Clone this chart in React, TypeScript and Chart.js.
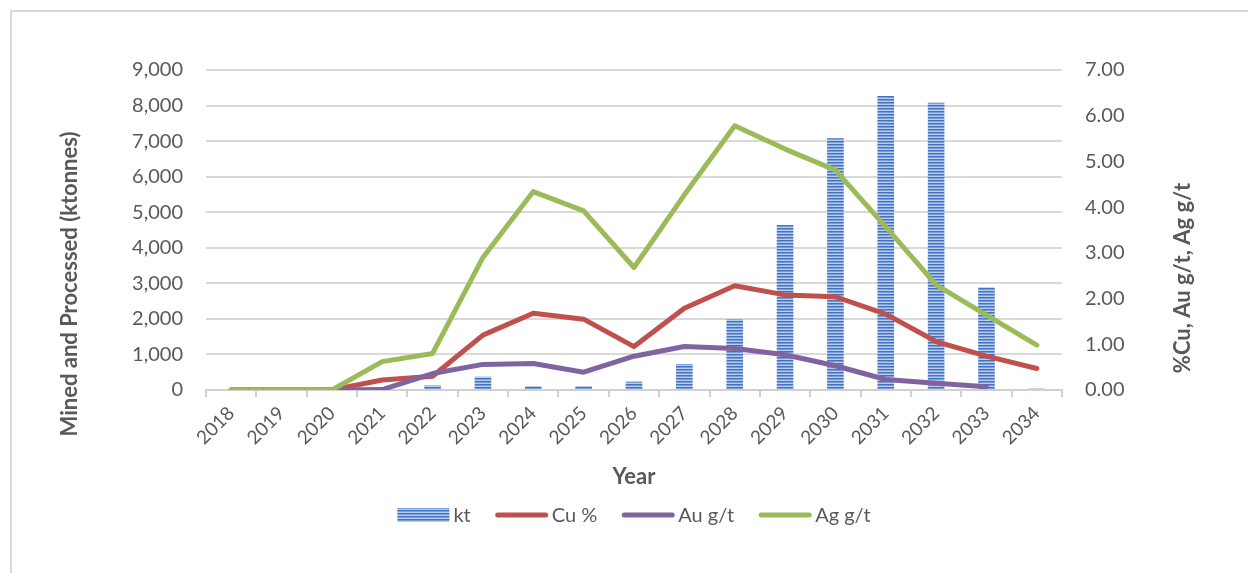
import React, { useEffect, useRef } from "react";
import { Chart, registerables } from "chart.js";

Chart.register(...registerables);

const years = ["2018", "2019", "2020", "2021", "2022", "2023", "2024", "2025", "2026", "2027", "2028", "2029", "2030", "2031", "2032", "2033", "2034"];
const ktValues = [0, 0, 0, 30, 130, 375, 110, 110, 235, 730, 1990, 4640, 7080, 8270, 8080, 2890, 40];
const cuValues = [0, 0, 0, 0.22, 0.3, 1.2, 1.68, 1.55, 0.95, 1.79, 2.28, 2.08, 2.04, 1.66, 1.06, 0.74, 0.47];
const auValues = [0, 0, 0, 0.01, 0.36, 0.56, 0.58, 0.39, 0.74, 0.95, 0.91, 0.77, 0.53, 0.23, 0.15, 0.07, null];
const agValues = [0, 0, 0, 0.62, 0.8, 2.9, 4.34, 3.92, 2.68, 4.27, 5.78, 5.27, 4.81, 3.57, 2.3, 1.64, 0.98];

const leftAxis = { min: 0, max: 9000, step: 1000 };
const rightAxis = { min: 0, max: 7, step: 1 };

const seriesLabels = ["kt", "Cu %", "Au g/t", "Ag g/t"];
const leftTitle = "Mined and Processed (ktonnes)";
const rightTitle = "%Cu, Au g/t, Ag g/t";
const xTitle = "Year";

const COLORS = { cu: "#C0504D", au: "#8064A2", ag: "#9BBB59" };
const TEXT = "#595959";
const FONT = "Lato, 'Open Sans', sans-serif";

function makeStripePattern(ctx: CanvasRenderingContext2D): CanvasPattern | string {
  const c = document.createElement("canvas");
  c.width = 4;
  c.height = 3;
  const p = c.getContext("2d");
  if (!p) return "#4F81BD";
  const rows = ["#4273c2", "#7a9dd8", "#b9cdeb"];
  rows.forEach((col, i) => {
    p.fillStyle = col;
    p.fillRect(0, i, 4, 1);
  });
  return ctx.createPattern(c, "repeat") || "#4F81BD";
}

export default function App() {
  const canvasRef = useRef<HTMLCanvasElement | null>(null);

  useEffect(() => {
    const canvas = canvasRef.current;
    if (!canvas) return;
    const ctx = canvas.getContext("2d");
    if (!ctx) return;
    const pattern = makeStripePattern(ctx);

    const textPlugin = {
      id: "customText",
      afterDraw(chart: any) {
        const c: CanvasRenderingContext2D = chart.ctx;
        const area = chart.chartArea;
        const cx = (area.left + area.right) / 2;
        c.save();
        c.fillStyle = TEXT;
        c.font = `bold 22px ${FONT}`;
        c.textAlign = "center";
        c.textBaseline = "middle";
        c.save();
        c.translate(70, 284);
        c.rotate(-Math.PI / 2);
        c.fillText(leftTitle, 0, 0);
        c.restore();
        c.save();
        c.translate(1183, 278);
        c.rotate(-Math.PI / 2);
        c.fillText(rightTitle, 0, 0);
        c.restore();
        c.fillText(xTitle, cx, 477);

        // legend
        c.font = `20px ${FONT}`;
        c.textAlign = "left";
        const sample = 52;
        const gapSample = 4;
        const gapItem = 25;
        const items = chart.data.datasets.map((d: any) => ({
          label: d.label,
          type: d.type,
          color: d.type === "bar" ? pattern : d.borderColor,
        }));
        const widths = items.map((it: any) => sample + gapSample + c.measureText(it.label).width);
        const total = widths.reduce((a: number, b: number) => a + b, 0) + gapItem * (items.length - 1);
        let x = cx - total / 2;
        const ly = 515;
        items.forEach((it: any, i: number) => {
          if (it.type === "bar") {
            c.fillStyle = it.color;
            c.fillRect(x, ly - 7, sample, 14);
          } else {
            c.strokeStyle = it.color;
            c.lineWidth = 5;
            c.lineCap = "round";
            c.beginPath();
            c.moveTo(x + 2, ly);
            c.lineTo(x + sample - 2, ly);
            c.stroke();
          }
          c.fillStyle = TEXT;
          c.fillText(it.label, x + sample + gapSample, ly + 1);
          x += widths[i] + gapItem;
        });
        c.restore();
      },
    };

    const lineDs = (label: string, data: (number | null)[], color: string, order: number) => ({
      type: "line" as const,
      label,
      data,
      borderColor: color,
      backgroundColor: color,
      borderWidth: 5,
      pointRadius: 0,
      borderCapStyle: "round" as const,
      borderJoinStyle: "round" as const,
      tension: 0,
      yAxisID: "y1",
      order,
      spanGaps: false,
    });

    const chart = new Chart(canvas, {
      type: "bar",
      data: {
        labels: years,
        datasets: [
          {
            type: "bar",
            label: seriesLabels[0],
            data: ktValues,
            backgroundColor: pattern as any,
            borderWidth: 0,
            barPercentage: 0.33,
            categoryPercentage: 1,
            yAxisID: "y",
            order: 4,
          } as any,
          lineDs(seriesLabels[1], cuValues, COLORS.cu, 3),
          lineDs(seriesLabels[2], auValues, COLORS.au, 2),
          lineDs(seriesLabels[3], agValues, COLORS.ag, 1),
        ],
      },
      options: {
        responsive: false,
        animation: false,
        devicePixelRatio: 1,
        layout: { padding: { top: 70, left: 0, right: 0, bottom: 0 } },
        plugins: {
          legend: { display: false },
          tooltip: { enabled: false },
          title: { display: false },
        },
        scales: {
          x: {
            offset: true,
            grid: {
              offset: true,
              drawOnChartArea: false,
              drawTicks: true,
              tickLength: 7,
              color: "#d0d0d0",
              lineWidth: 2,
            },
            border: { display: true, color: "#d0d0d0", width: 2 },
            ticks: {
              autoSkip: false,
              maxRotation: 45,
              minRotation: 45,
              color: TEXT,
              font: { size: 19, family: FONT },
              padding: 5,
            },
            afterFit: (s: any) => {
              s.height = 183;
            },
          },
          y: {
            position: "left",
            min: leftAxis.min,
            max: leftAxis.max,
            ticks: {
              stepSize: leftAxis.step,
              padding: 23,
              color: TEXT,
              font: { size: 20, family: FONT },
              callback: (v: any) => Number(v).toLocaleString("en-US"),
            },
            grid: { drawTicks: false, color: "#d9d9d9", lineWidth: 2 },
            border: { display: false },
            afterFit: (s: any) => {
              s.width = 206;
            },
          },
          y1: {
            position: "right",
            min: rightAxis.min,
            max: rightAxis.max,
            ticks: {
              stepSize: rightAxis.step,
              padding: 23,
              color: TEXT,
              font: { size: 20, family: FONT },
              callback: (v: any) => Number(v).toFixed(2),
            },
            grid: { display: false, drawTicks: false },
            border: { display: false },
            afterFit: (s: any) => {
              s.width = 186;
            },
          },
        },
      } as any,
      plugins: [textPlugin],
    });

    return () => chart.destroy();
  }, []);

  return (
    <div
      style={{
        position: "fixed",
        left: 0,
        top: 0,
        width: 1248,
        height: 573,
        overflow: "hidden",
        background: "#ffffff",
      }}
    >
      <div
        style={{
          position: "absolute",
          left: 10,
          top: 10,
          width: 1400,
          height: 800,
          border: "2px solid #d9d9d9",
        }}
      />
      <canvas
        ref={canvasRef}
        width={1248}
        height={573}
        style={{ position: "absolute", left: 0, top: 0, width: 1248, height: 573 }}
      />
    </div>
  );
}
